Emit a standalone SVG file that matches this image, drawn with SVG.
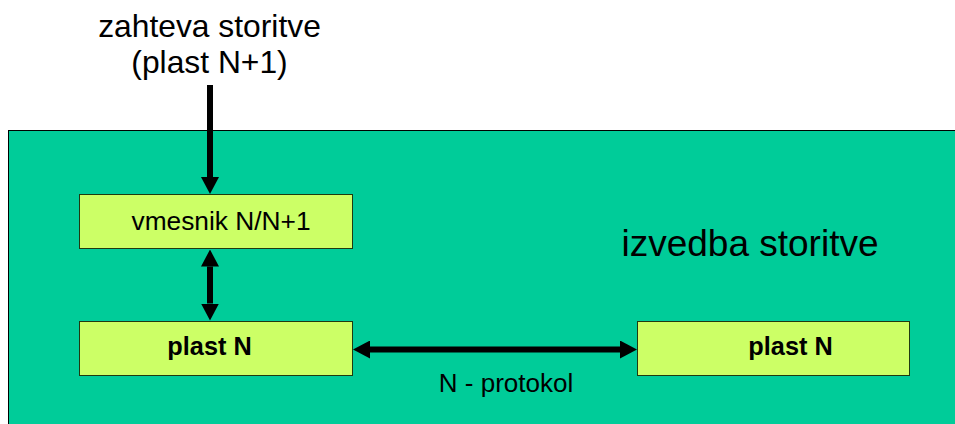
<svg xmlns="http://www.w3.org/2000/svg" width="955" height="424" viewBox="0 0 955 424">
  <defs>
    <style>
      .txt { font-family: "Liberation Sans", Arial, sans-serif; fill: #000; }
      .box { fill: #CCFF66; stroke: #1f3a10; stroke-width: 1; }
      .conn { stroke: #000; stroke-width: 6; fill: none; }
    </style>
    <marker id="head" markerUnits="userSpaceOnUse" markerWidth="17" markerHeight="18" refX="0" refY="9" orient="auto-start-reverse" viewBox="0 0 17 18">
      <path d="M0,0 L17,9 L0,18 Z" fill="#000"/>
    </marker>
  </defs>

  <rect width="955" height="424" fill="#ffffff"/>

  <!-- service implementation area -->
  <g id="izvedba">
    <rect x="8.5" y="130.5" width="960" height="300" fill="#00CC99" stroke="#000" stroke-width="1"/>
    <text class="txt" x="750" y="256" font-size="37" text-anchor="middle">izvedba storitve</text>
  </g>

  <!-- request from layer above -->
  <g id="zahteva">
    <text class="txt" x="209.5" y="37" font-size="31.8" text-anchor="middle">zahteva storitve</text>
    <text class="txt" x="209.5" y="72.5" font-size="31.8" text-anchor="middle">(plast N+1)</text>
  </g>

  <g id="vmesnik">
    <rect class="box" x="79.5" y="194.5" width="273" height="54"/>
    <text class="txt" x="221" y="230" font-size="26.3" text-anchor="middle">vmesnik N/N+1</text>
  </g>

  <g id="plast-n-levo">
    <rect class="box" x="79.5" y="321.5" width="273" height="54"/>
    <text class="txt" x="209.5" y="354.5" font-size="25.3" font-weight="bold" text-anchor="middle">plast N</text>
  </g>

  <g id="plast-n-desno">
    <rect class="box" x="637.5" y="321.5" width="272" height="54"/>
    <text class="txt" x="790.5" y="354.5" font-size="25.3" font-weight="bold" text-anchor="middle">plast N</text>
  </g>

  <g id="connectors">
    <line class="conn" x1="210" y1="85" x2="210" y2="177" marker-end="url(#head)"/>
    <line class="conn" x1="210" y1="266.5" x2="210" y2="303.5" marker-start="url(#head)" marker-end="url(#head)"/>
    <line class="conn" x1="370" y1="349.5" x2="620" y2="349.5" marker-start="url(#head)" marker-end="url(#head)"/>
    <text class="txt" x="506" y="391.5" font-size="26" text-anchor="middle">N - protokol</text>
  </g>
</svg>
